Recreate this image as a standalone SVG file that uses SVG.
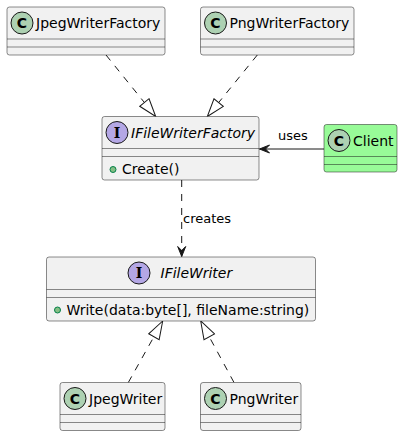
<svg xmlns="http://www.w3.org/2000/svg" width="403" height="436" viewBox="0 0 403 436">
<style>
.box{fill:#F1F1F1;stroke:#181818;stroke-width:0.5}
.sep{stroke:#181818;stroke-width:0.5}
.cc{fill:#ADD1B2;stroke:#181818;stroke-width:1}
.ci{fill:#B4A7E5;stroke:#181818;stroke-width:1}
.lc{font-family:"DejaVu Sans",sans-serif;font-size:14px;font-weight:bold;fill:#000;text-anchor:middle}
.li{font-family:"DejaVu Serif",serif;font-size:14px;font-weight:bold;fill:#000;text-anchor:middle}
.nm{font-family:"DejaVu Sans",sans-serif;font-size:14px;fill:#000}
.it{font-style:italic}
.lbl{font-family:"DejaVu Sans",sans-serif;font-size:13px;fill:#000}
.dot{fill:#84BE84;stroke:#038048;stroke-width:1}
.ln{fill:none;stroke:#181818;stroke-width:1}
.dash{stroke-dasharray:7,7}
</style>
<defs>
<marker id="tri" viewBox="-19 -7 20 14" refX="0" refY="0" markerWidth="20" markerHeight="14" markerUnits="userSpaceOnUse" orient="auto">
<path d="M0,0 L-18,-6 L-18,6 Z" fill="#FFFFFF" stroke="#181818" stroke-width="1"/>
</marker>
<marker id="arr" viewBox="-11 -5 12 10" refX="0" refY="0" markerWidth="12" markerHeight="10" markerUnits="userSpaceOnUse" orient="auto">
<path d="M0,0 L-10,-4 L-6,0 L-10,4 Z" fill="#181818" stroke="#181818" stroke-width="1"/>
</marker>
</defs>
<g id="connectors">
<path class="ln dash" d="M106,55 L155.7,116.5" marker-end="url(#tri)"/>
<path class="ln dash" d="M257.3,55 L207.3,116.5" marker-end="url(#tri)"/>
<path class="ln" d="M324,149 L259.5,149" marker-end="url(#arr)"/>
<text class="lbl" x="278" y="140">uses</text>
<path class="ln dash" d="M181.7,180 L181.7,256.5" marker-end="url(#arr)"/>
<text class="lbl" x="183" y="223">creates</text>
<path class="ln dash" d="M128.3,382.5 L162.7,321" marker-end="url(#tri)"/>
<path class="ln dash" d="M234,382.5 L200.7,321" marker-end="url(#tri)"/>
</g>
<g id="JpegWriterFactory">
<rect class="box" x="7" y="7" width="158" height="48" rx="2.5"/>
<line class="sep" x1="7" y1="39" x2="165" y2="39"/>
<line class="sep" x1="7" y1="47" x2="165" y2="47"/>
<circle class="cc" cx="22" cy="23" r="11"/>
<text class="lc" x="22" y="28">C</text>
<text class="nm" x="36" y="28">JpegWriterFactory</text>
</g>
<g id="PngWriterFactory">
<rect class="box" x="200.5" y="7" width="153.5" height="48" rx="2.5"/>
<line class="sep" x1="200.5" y1="39" x2="354" y2="39"/>
<line class="sep" x1="200.5" y1="47" x2="354" y2="47"/>
<circle class="cc" cx="215.5" cy="23" r="11"/>
<text class="lc" x="215.5" y="28">C</text>
<text class="nm" x="229.5" y="28">PngWriterFactory</text>
</g>
<g id="IFileWriterFactory">
<rect class="box" x="102" y="116.5" width="157" height="63.5" rx="2.5"/>
<line class="sep" x1="102" y1="148.5" x2="259" y2="148.5"/>
<line class="sep" x1="102" y1="156.5" x2="259" y2="156.5"/>
<circle class="ci" cx="117" cy="132.5" r="11"/>
<text class="li" x="117" y="137.5">I</text>
<text class="nm it" x="131" y="137.5">IFileWriterFactory</text>
<circle class="dot" cx="113" cy="169.5" r="3"/>
<text class="nm" x="122" y="174">Create()</text>
</g>
<g id="Client">
<rect x="324" y="124.5" width="73" height="47.5" rx="2.5" fill="#98FB98" stroke="#181818" stroke-width="0.5"/>
<line class="sep" x1="324" y1="156.5" x2="397" y2="156.5"/>
<line class="sep" x1="324" y1="164.5" x2="397" y2="164.5"/>
<circle class="cc" cx="339" cy="140.5" r="11"/>
<text class="lc" x="339" y="145.5">C</text>
<text class="nm" x="353" y="145.5">Client</text>
</g>
<g id="IFileWriter">
<rect class="box" x="46.5" y="257" width="269" height="64" rx="2.5"/>
<line class="sep" x1="46.5" y1="289.5" x2="315.5" y2="289.5"/>
<line class="sep" x1="46.5" y1="297.5" x2="315.5" y2="297.5"/>
<circle class="ci" cx="139" cy="273" r="11"/>
<text class="li" x="139" y="278">I</text>
<text class="nm it" x="160.5" y="278">IFileWriter</text>
<circle class="dot" cx="57.5" cy="310" r="3"/>
<text class="nm" x="66.5" y="314.5">Write(data:byte[], fileName:string)</text>
</g>
<g id="JpegWriter">
<rect class="box" x="60" y="382.5" width="105" height="48" rx="2.5"/>
<line class="sep" x1="60" y1="414.5" x2="165" y2="414.5"/>
<line class="sep" x1="60" y1="422.5" x2="165" y2="422.5"/>
<circle class="cc" cx="75" cy="398.5" r="11"/>
<text class="lc" x="75" y="403.5">C</text>
<text class="nm" x="89" y="403.5">JpegWriter</text>
</g>
<g id="PngWriter">
<rect class="box" x="200.5" y="382.5" width="100.5" height="48" rx="2.5"/>
<line class="sep" x1="200.5" y1="414.5" x2="301" y2="414.5"/>
<line class="sep" x1="200.5" y1="422.5" x2="301" y2="422.5"/>
<circle class="cc" cx="215.5" cy="398.5" r="11"/>
<text class="lc" x="215.5" y="403.5">C</text>
<text class="nm" x="229.5" y="403.5">PngWriter</text>
</g>
</svg>
